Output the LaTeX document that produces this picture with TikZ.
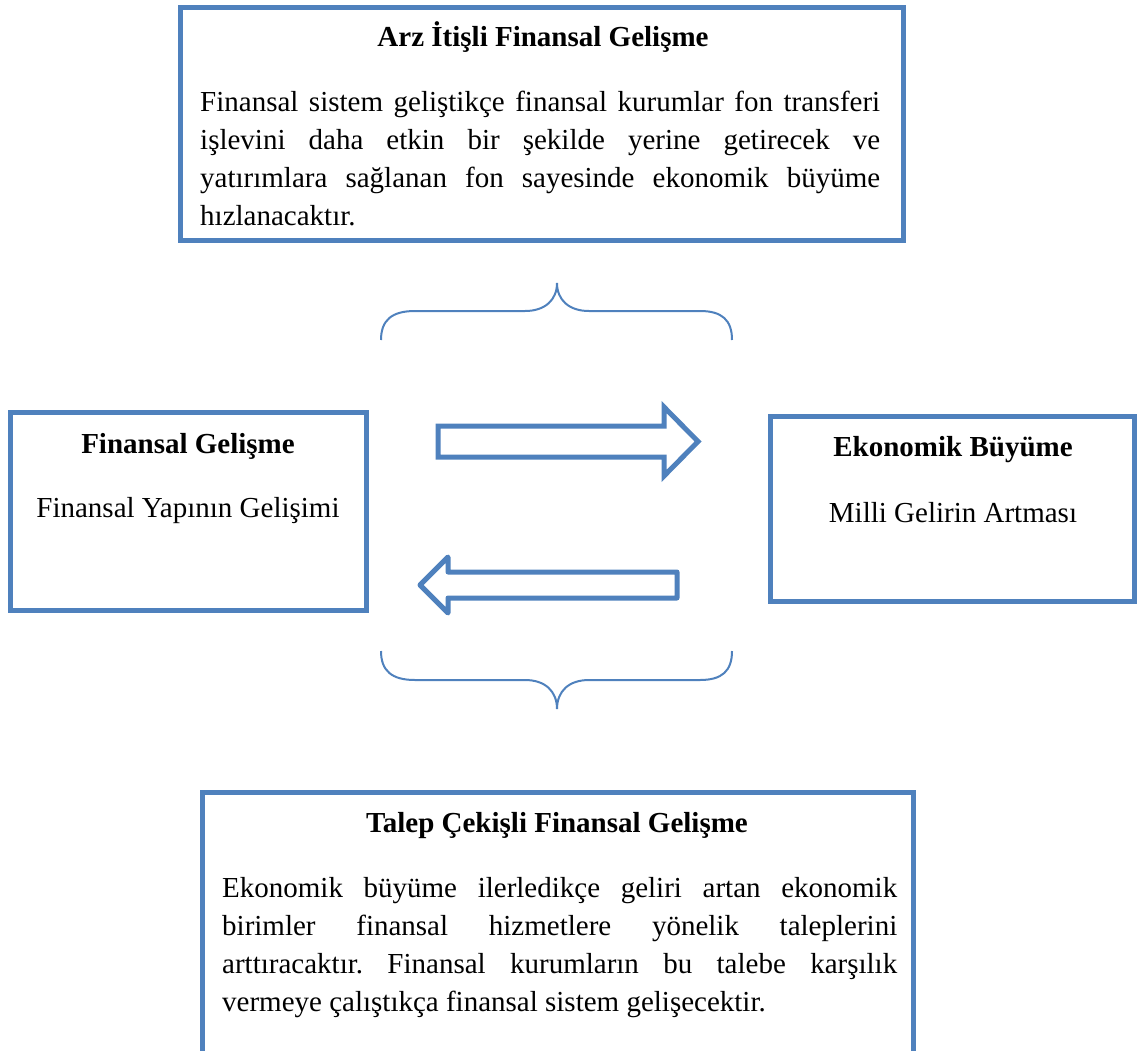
\documentclass[tikz,border=0pt]{standalone}
\usepackage{fontspec}
\setmainfont{Liberation Serif}
\usepackage{xcolor}
\usepackage{tikz}
\usetikzlibrary{positioning}
\pgfdeclarelayer{nodelayer}
\pgfdeclarelayer{edgelayer}
\pgfsetlayers{nodelayer,edgelayer,main}
\definecolor{wordblue}{HTML}{4F81BD}
\frenchspacing
\tikzset{
  box/.style={draw=wordblue, line width=5pt, rectangle, inner sep=0pt},
  title/.style={anchor=base, inner sep=0pt, font=\fontsize{29}{38}\selectfont\bfseries},
  subtitle/.style={anchor=base, inner sep=0pt, font=\fontsize{29}{38}\selectfont},
  para/.style={anchor=base west, inner sep=0pt, align=justify, font=\fontsize{29}{38}\selectfont},
  blockarrow/.style={draw=wordblue, line width=5pt, fill=white},
  brace/.style={draw=wordblue, line width=2pt}
}
\begin{document}
\begin{tikzpicture}[x=1pt, y=-1pt]
  \useasboundingbox (0,0) rectangle (1138,1050);
  \begin{pgfonlayer}{nodelayer}
    % boxes
    \node [box, minimum width=723pt, minimum height=233pt] (arz) at (541.5,123.5) {};
    \node [box, minimum width=356pt, minimum height=198pt] (fin) at (188,511) {};
    \node [box, minimum width=364pt, minimum height=185pt] (eko) at (952,508.5) {};
    \draw [box, line join=miter] (202,1060) -- (202,792) -- (913,792) -- (913,1060);
  \end{pgfonlayer}
  \begin{pgfonlayer}{edgelayer}
    % arrows
    \draw [blockarrow, line join=miter] (438,426) -- (664,426) -- (664,407) -- (698,441.5)
      -- (664,476) -- (664,457) -- (438,457) -- cycle;
    \draw [blockarrow, line join=round] (677,572) -- (448,572) -- (448,557) -- (420,585)
      -- (448,613) -- (448,598) -- (677,598) -- cycle;
    % braces
    \draw [brace] (381,340) .. controls (381,320) and (392,311) .. (415,311) -- (525,311)
      .. controls (545,311) and (557,300) .. (557,283)
      .. controls (557,300) and (569,311) .. (589,311) -- (700,311)
      .. controls (722,311) and (732,320) .. (732,340);
    \draw [brace] (381,651) .. controls (381,671) and (392,680) .. (415,680) -- (525,680)
      .. controls (545,680) and (557,691) .. (557,709)
      .. controls (557,691) and (569,680) .. (589,680) -- (700,680)
      .. controls (722,680) and (732,671) .. (732,651);
  \end{pgfonlayer}
  % texts
  \node [title] (arzT) at (543,46) {Arz İtişli Finansal Gelişme};
  \node [para, text width=680pt] (arzP) at (200,111) {Finansal sistem geliştikçe finansal kurumlar fon transferi\linebreak
    işlevini daha etkin bir şekilde yerine getirecek ve\linebreak
    yatırımlara sağlanan fon sayesinde ekonomik büyüme\linebreak
    hızlanacaktır.};
  \node [title] (finT) at (188,453) {Finansal Gelişme};
  \node [subtitle] (finS) at (188,517) {Finansal Yapının Gelişimi};
  \node [title] (ekoT) at (953,456) {Ekonomik Büyüme};
  \node [subtitle] (ekoS) at (953,522) {Milli Gelirin Artması};
  \node [title] (talT) at (557,832) {Talep Çekişli Finansal Gelişme};
  \node [para, text width=675pt] (talP) at (222,897) {Ekonomik büyüme ilerledikçe geliri artan ekonomik\linebreak
    birimler finansal hizmetlere yönelik taleplerini\linebreak
    arttıracaktır. Finansal kurumların bu talebe karşılık\linebreak
    vermeye çalıştıkça finansal sistem gelişecektir.};
\end{tikzpicture}
\end{document}
